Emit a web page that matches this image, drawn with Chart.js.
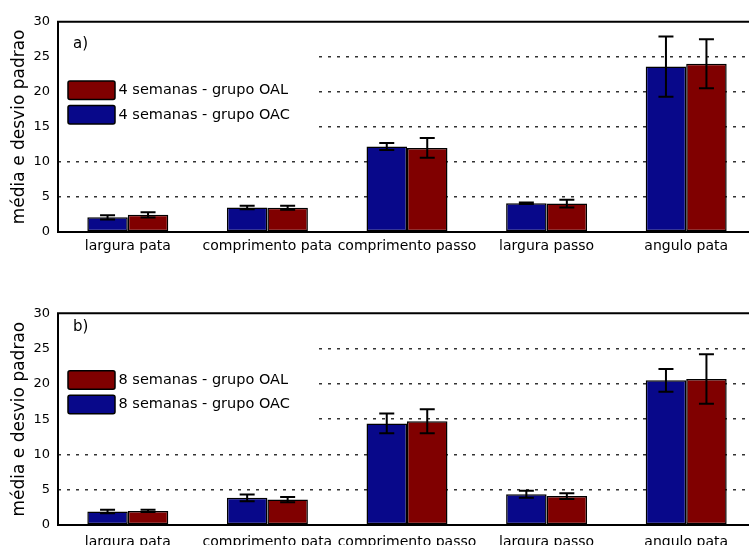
<!DOCTYPE html>
<html><head><meta charset="utf-8">
<script src="https://cdn.jsdelivr.net/npm/chart.js@4"></script>
<style>
html,body{margin:0;padding:0;width:749px;height:545px;overflow:hidden;background:#fff;}
.panel{position:absolute;left:0;width:756px;}
#pa{top:0;height:262px;}
#pb{top:292px;height:263px;}
canvas{display:block;}
</style></head><body>
<div class="panel" id="pa"><canvas id="ca" width="756" height="262" style="width:756px;height:262px"></canvas></div>
<div class="panel" id="pb"><canvas id="cb" width="756" height="263" style="width:756px;height:263px"></canvas></div>
<script>
// ---- data ----
const categories = ['largura pata', 'comprimento pata', 'comprimento passo', 'largura passo', 'angulo pata'];
const yTicks = [0, 5, 10, 15, 20, 25, 30];

const labelsA = ['4 semanas - grupo OAC', '4 semanas - grupo OAL'];
const a_OAC = [2.1, 3.5, 12.2, 4.1, 23.6];
const a_OAC_sd = [0.3, 0.25, 0.5, 0.1, 4.3];
const a_OAL = [2.45, 3.45, 12.0, 4.05, 24.0];
const a_OAL_sd = [0.37, 0.28, 1.4, 0.55, 3.5];

const labelsB = ['8 semanas - grupo OAC', '8 semanas - grupo OAL'];
const b_OAC = [1.9, 3.85, 14.4, 4.35, 20.5];
const b_OAC_sd = [0.25, 0.48, 1.4, 0.5, 1.6];
const b_OAL = [2.0, 3.6, 14.7, 4.1, 20.7];
const b_OAL_sd = [0.15, 0.38, 1.7, 0.4, 3.5];

const BLUE = '#08088a';
const RED = '#800000';
const FONT = "'DejaVu Sans', sans-serif";

// ---- plugins ----
const maskPlugin = {
  id: 'mask',
  beforeDatasetsDraw(chart) {
    const {ctx, chartArea: ca, scales: {y}} = chart;
    ctx.save();
    ctx.fillStyle = '#fff';
    const yb = y.getPixelForValue(12.5);
    ctx.fillRect(ca.left + 1, ca.top + 1, 316 - ca.left, yb - ca.top);
    ctx.restore();
  }
};

const errorPlugin = {
  id: 'errbars',
  afterDatasetsDraw(chart) {
    const {ctx, scales: {y}} = chart;
    ctx.save();
    ctx.strokeStyle = '#000';
    ctx.lineWidth = 2;
    chart.data.datasets.forEach((ds, i) => {
      const meta = chart.getDatasetMeta(i);
      meta.data.forEach((bar, j) => {
        const v = ds.data[j], e = ds.sd[j];
        const x = bar.x;
        const yt = y.getPixelForValue(v + e);
        const yb = y.getPixelForValue(v - e);
        const cw = 7.5;
        ctx.beginPath();
        ctx.moveTo(x, yt); ctx.lineTo(x, yb);
        ctx.moveTo(x - cw, yt); ctx.lineTo(x + cw, yt);
        ctx.moveTo(x - cw, yb); ctx.lineTo(x + cw, yb);
        ctx.stroke();
      });
    });
    // frame
    const ca = chart.chartArea;
    ctx.lineWidth = 2;
    ctx.beginPath();
    ctx.rect(ca.left, ca.top, ca.right - ca.left, ca.bottom - ca.top);
    ctx.stroke();
    ctx.restore();
  }
};

const legendPlugin = {
  id: 'innerLegend',
  afterDraw(chart, args, opts) {
    const {ctx, chartArea: ca} = chart;
    ctx.save();
    ctx.fillStyle = '#000';
    ctx.font = '15px ' + FONT;
    ctx.textBaseline = 'middle';
    ctx.textAlign = 'left';
    ctx.fillText(opts.tag, 73, ca.top + opts.tagY);
    const order = [1, 0];
    ctx.font = '14.5px ' + FONT;
    order.forEach((di, k) => {
      const ds = chart.data.datasets[di];
      const top = ca.top + opts.legTop + k * 24.5;
      ctx.beginPath();
      if (ctx.roundRect) ctx.roundRect(68, top, 47, 18.5, 2); else ctx.rect(68, top, 47, 18.5);
      ctx.fillStyle = ds.backgroundColor;
      ctx.fill();
      ctx.lineWidth = 1.5;
      ctx.strokeStyle = '#000';
      ctx.stroke();
      ctx.fillStyle = '#000';
      ctx.fillText(ds.label, 118.5, top + 9.5);
    });
    ctx.restore();
  }
};

function makeChart(id, labels, blue, blueSd, red, redSd, tag, tagY, legTop, padTop, xPad) {
  return new Chart(document.getElementById(id), {
    type: 'bar',
    data: {
      labels: categories,
      datasets: [
        {label: labels[0], data: blue, sd: blueSd, backgroundColor: BLUE, borderColor: '#000', borderWidth: 1.5, borderSkipped: false},
        {label: labels[1], data: red, sd: redSd, backgroundColor: RED, borderColor: '#000', borderWidth: 1.5, borderSkipped: false}
      ]
    },
    options: {
      responsive: false,
      animation: false,
      events: [],
      layout: {padding: {top: padTop, right: 0, bottom: 0, left: 0}},
      datasets: {bar: {barPercentage: 1, categoryPercentage: 0.58}},
      plugins: {
        legend: {display: false},
        tooltip: {enabled: false},
        innerLegend: {tag: tag, tagY: tagY, legTop: legTop}
      },
      scales: {
        x: {
          grid: {display: false, drawTicks: false},
          border: {display: false},
          ticks: {color: '#000', font: {family: FONT, size: 14}, padding: xPad, maxRotation: 0, autoSkip: false},
          afterFit(s) { s.height = 30; }
        },
        y: {
          min: 0, max: 30,
          afterBuildTicks(s) { s.ticks = yTicks.map(v => ({value: v})); },
          grid: {
            drawTicks: false,
            lineWidth: 1.5,
            color: c => (c.tick.value === 0 || c.tick.value === 30) ? 'rgba(0,0,0,0)' : '#333'
          },
          border: {display: false, dash: [3, 6]},
          ticks: {color: '#000', font: {family: FONT, size: 13}, padding: 8},
          title: {display: true, text: 'média e desvio padrao', color: '#000', font: {family: FONT, size: 17}, padding: {top: 9, bottom: 0}},
          afterFit(s) { s.width = 58; }
        }
      }
    },
    plugins: [maskPlugin, errorPlugin, legendPlugin]
  });
}

makeChart('ca', labelsA, a_OAC, a_OAC_sd, a_OAL, a_OAL_sd, 'a)', 22, 59.3, 21.7, 6);
makeChart('cb', labelsB, b_OAC, b_OAC_sd, b_OAL, b_OAL_sd, 'b)', 13.5, 57.4, 21.3, 9);
</script>
</body></html>
